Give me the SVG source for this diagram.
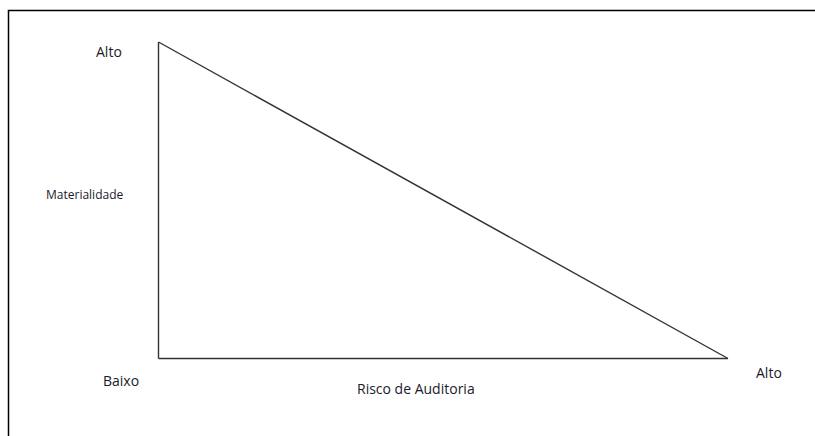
<svg xmlns="http://www.w3.org/2000/svg" width="815" height="436" viewBox="0 0 815 436">
<style>
.lbl{font-family:"Open Sans","Liberation Sans",sans-serif;fill:#1a1a2a;}
.edge{stroke:#333;stroke-width:1.4;fill:none;}
</style>
<rect x="0" y="0" width="815" height="436" fill="#fff"/>
<path d="M8.5 436 V10.5 H815" stroke="#000" stroke-width="1.5" fill="none"/>
<g id="connectors">
<line class="edge" x1="158.5" y1="42" x2="158.5" y2="358.5"/>
<line class="edge" x1="158.5" y1="358.5" x2="728" y2="358.5"/>
<line class="edge" x1="158.5" y1="42" x2="728" y2="358.5"/>
</g>
<g id="alto-top"><text class="lbl" x="96" y="57" font-size="14">Alto</text></g>
<g id="materialidade"><text class="lbl" x="46" y="199" font-size="12">Materialidade</text></g>
<g id="baixo"><text class="lbl" x="103" y="386" font-size="14">Baixo</text></g>
<g id="risco"><text class="lbl" x="357" y="394" font-size="14">Risco de Auditoria</text></g>
<g id="alto-right"><text class="lbl" x="756" y="378" font-size="14">Alto</text></g>
</svg>
